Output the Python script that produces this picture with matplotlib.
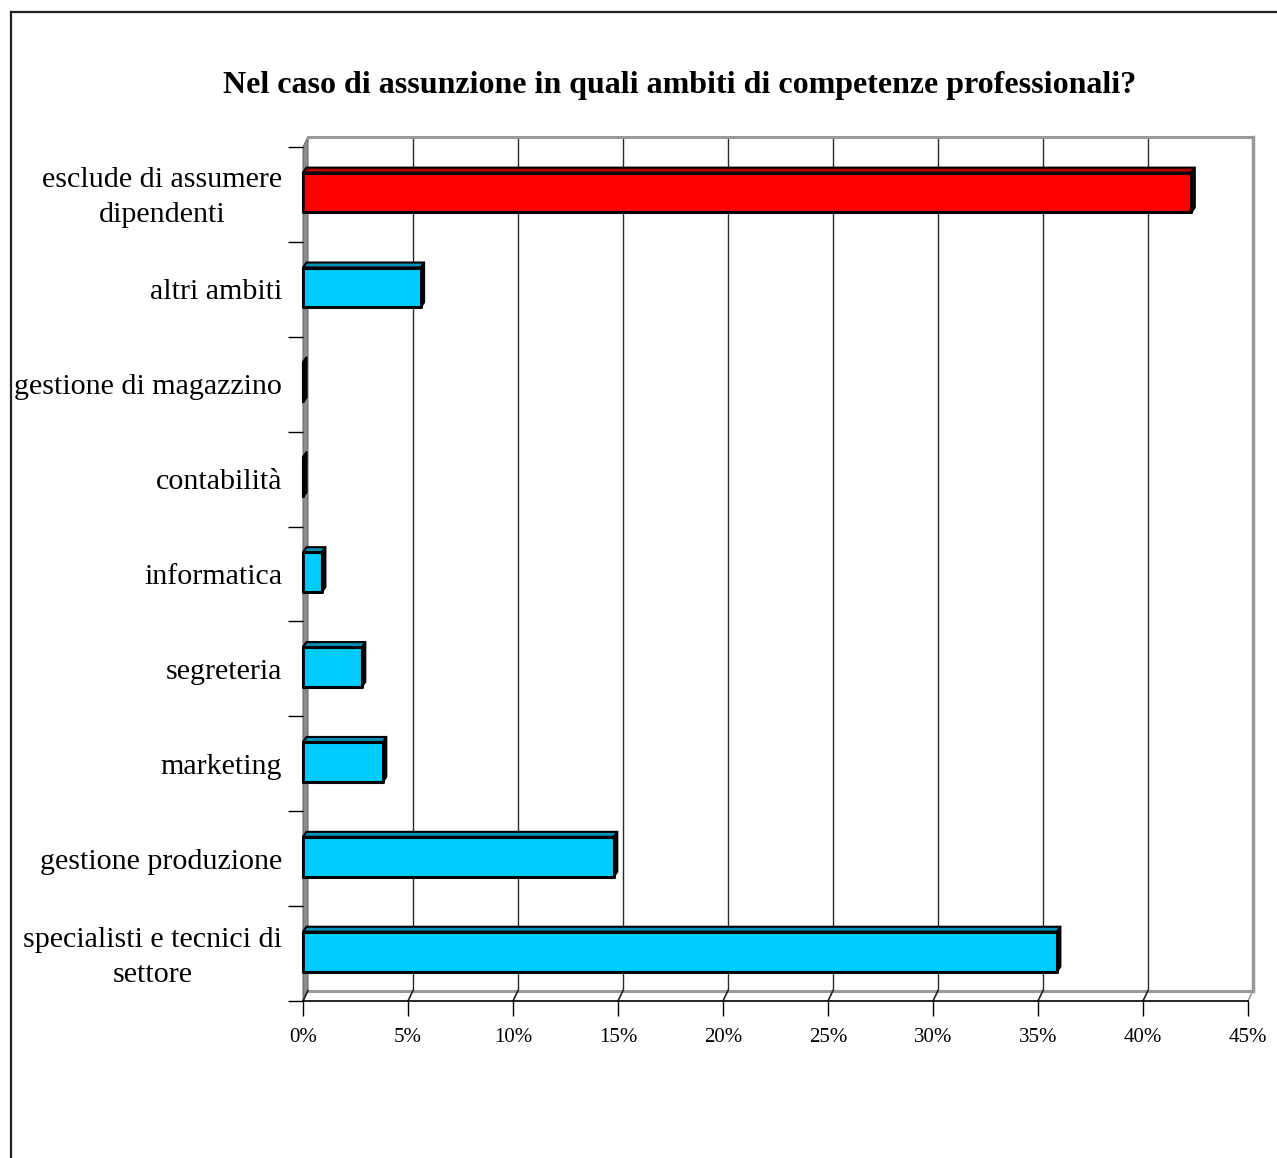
import matplotlib
matplotlib.use("Agg")
import matplotlib.pyplot as plt
from matplotlib.patches import Polygon, Rectangle
from matplotlib.lines import Line2D
from matplotlib.transforms import ScaledTranslation

plt.rcParams['font.family'] = ['Liberation Serif', 'DejaVu Serif']

title = "Nel caso di assunzione in quali ambiti di competenze professionali?"

# categories listed bottom to top
categories = [
    "specialisti e tecnici di\nsettore",
    "gestione produzione",
    "marketing",
    "segreteria",
    "informatica",
    "contabilità",
    "gestione di magazzino",
    "altri ambiti",
    "esclude di assumere\ndipendenti",
]
values = [35.9, 14.8, 3.8, 2.8, 0.9, 0.0, 0.0, 5.6, 42.3]
highlight = [False, False, False, False, False, False, False, False, True]

x_ticks = [0, 5, 10, 15, 20, 25, 30, 35, 40, 45]
x_tick_labels = [f"{t}%" for t in x_ticks]

W, H = 1277, 1158
fig = plt.figure(figsize=(W / 100, H / 100), dpi=100)
fig.patch.set_facecolor('white')

# front plane of the plot
left_px, right_px, top_px, bottom_px = 303, 1248, 147, 1001
ax = fig.add_axes([left_px / W, 1 - bottom_px / H,
                   (right_px - left_px) / W, (bottom_px - top_px) / H])
ax.set_xlim(0, 45)
ax.set_ylim(-0.5, len(categories) - 0.5)
ax.set_facecolor('none')

# pixel -> data unit conversion for the pseudo-3D depth
ppx = (right_px - left_px) / 45.0
ppy = (bottom_px - top_px) / len(categories)
DX, DY = 5 / ppx, 10.5 / ppy          # wall depth
BDX, BDY = 3.5 / ppx, 5 / ppy         # bar depth

ymin, ymax = -0.5, len(categories) - 0.5

# left wall
ax.add_patch(Polygon([(0, ymin), (0, ymax), (DX, ymax + DY), (DX, ymin + DY)],
                     closed=True, facecolor='#8c8c8c', edgecolor='#6e6e6e',
                     lw=0.8, clip_on=False, zorder=1))
# back wall gridlines
for t in x_ticks[1:-1]:
    ax.add_line(Line2D([t + DX, t + DX], [ymin + DY, ymax + DY], color='#2a2a2a',
                       lw=1.0, clip_on=False, zorder=1))
# back wall frame (top and right) and floor back edge
ax.add_line(Line2D([DX, 45 + DX], [ymax + DY, ymax + DY], color='#999999',
                   lw=2.2, clip_on=False, zorder=1))
ax.add_line(Line2D([45 + DX, 45 + DX], [ymin + DY, ymax + DY], color='#999999',
                   lw=2.5, clip_on=False, zorder=1))
ax.add_line(Line2D([DX, 45 + DX], [ymin + DY, ymin + DY], color='#999999',
                   lw=2.2, clip_on=False, zorder=1))
# floor slants
for t in x_ticks:
    ax.add_line(Line2D([t, t + DX], [ymin, ymin + DY],
                       color='#999999' if t == 45 else '#222222',
                       lw=1.2, clip_on=False, zorder=1))

# bars
h = 0.42
for i, (v, hl) in enumerate(zip(values, highlight)):
    front = '#ff0000' if hl else '#00ccff'
    top = '#b00000' if hl else '#0090b8'
    side = '#1a1a1a'
    y0, y1 = i - h / 2 + 0.02, i + h / 2 + 0.02
    ax.add_patch(Polygon([(v, y0), (v + BDX, y0 + BDY), (v + BDX, y1 + BDY), (v, y1)],
                         closed=True, facecolor=side, edgecolor='black', lw=1.5,
                         joinstyle='round', clip_on=False, zorder=3))
    ax.add_patch(Polygon([(0, y1), (v, y1), (v + BDX, y1 + BDY), (BDX, y1 + BDY)],
                         closed=True, facecolor=top, edgecolor='black', lw=1.5,
                         joinstyle='round', clip_on=False, zorder=3))
    ax.add_patch(Rectangle((0, y0), v, y1 - y0, facecolor=front, edgecolor='black',
                           lw=2.2, joinstyle='round', clip_on=False, zorder=4))

# axes decorations
for s in ['top', 'right', 'left']:
    ax.spines[s].set_visible(False)
ax.spines['bottom'].set_color('black')
ax.spines['bottom'].set_linewidth(1.2)
ax.spines['bottom'].set_zorder(2)

ax.set_xticks(x_ticks)
ax.set_xticklabels(x_tick_labels, fontsize=15)
ax.tick_params(axis='x', direction='out', length=10.8, width=1.0, color='black', pad=9)

ax.set_yticks(range(len(categories)))
ax.set_yticklabels(categories, fontsize=21.6)
ax.tick_params(axis='y', which='major', length=0, pad=15)
lift = ScaledTranslation(0, 4 / 100, fig.dpi_scale_trans)
for lab in ax.get_yticklabels():
    lab.set_multialignment('center')
    lab.set_linespacing(1.45)
    if '\n' in lab.get_text():
        lab.set_transform(lab.get_transform() + lift)
ax.set_yticks([k - 0.5 for k in range(len(categories) + 1)], minor=True)
ax.tick_params(axis='y', which='minor', direction='out', length=10.8, width=1.0,
               color='black')

fig.text(680 / W, 1 - 85 / H, title, ha='center', va='center',
         fontsize=23, fontweight='bold')

# outer frame
fig.add_artist(Line2D([10.5 / W, 1.0], [1 - 11.5 / H, 1 - 11.5 / H],
                      color='#222222', lw=1.6, transform=fig.transFigure))
fig.add_artist(Line2D([10.5 / W, 10.5 / W], [0, 1 - 11.5 / H],
                      color='#222222', lw=1.6, transform=fig.transFigure))

fig.savefig('out.png', dpi=100, facecolor='white')
